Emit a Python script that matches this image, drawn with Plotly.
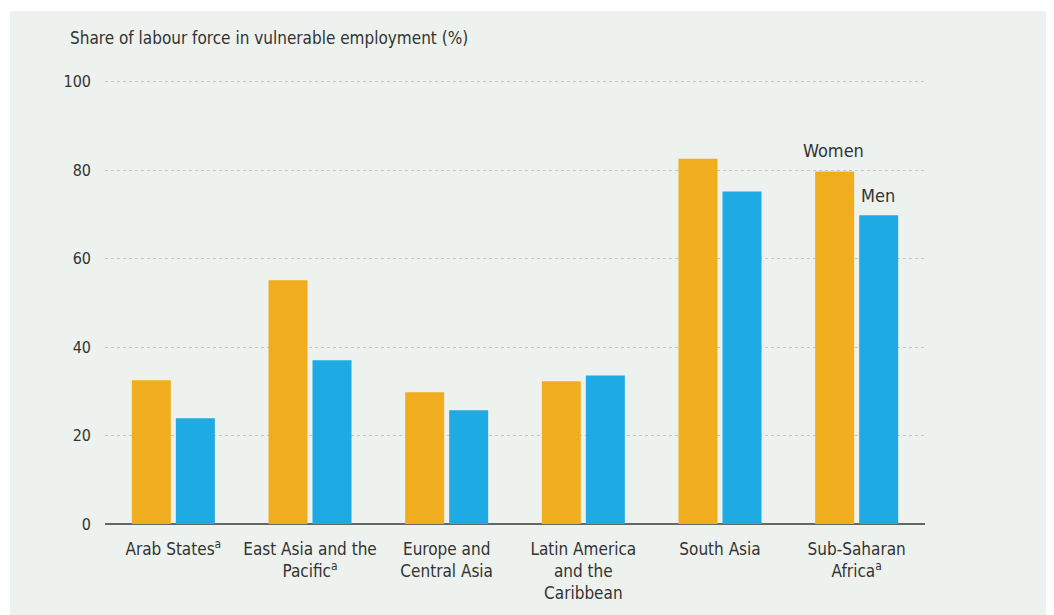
import plotly.graph_objects as go

categories = ["Arab States<sup>a</sup>", "East Asia and the<br>Pacific<sup>a</sup>",
              "Europe and<br>Central Asia", "Latin America<br>and the<br>Caribbean",
              "South Asia", "Sub-Saharan<br>Africa<sup>a</sup>"]
women = [32.5, 55.1, 29.8, 32.3, 82.6, 79.7]
men = [23.9, 37.0, 25.7, 33.6, 75.2, 69.8]
y_ticks = [0, 20, 40, 60, 80, 100]

FONT = "Liberation Sans Narrow, DejaVu Sans Condensed, sans-serif"
TXT = "#333333"
BG = "#edf2ee"

# page body has an 8px margin; figure sized/placed to compensate
L, T, PW, PH = 97, 72, 820, 444
W, H = 1046, 607

fig = go.Figure()
fig.add_trace(go.Bar(x=categories, y=women, name="Women", marker_color="#f0ae1e",
                     marker_line_width=0))
fig.add_trace(go.Bar(x=categories, y=men, name="Men", marker_color="#1eaae2",
                     marker_line_width=0))

fig.update_layout(
    width=W, height=H,
    margin=dict(l=L, r=W - L - PW, t=T, b=H - T - PH),
    paper_bgcolor=BG, plot_bgcolor=BG,
    barmode="group", bargap=0.356, bargroupgap=0.114,
    showlegend=False,
    font=dict(family=FONT, color=TXT, size=17),
    xaxis=dict(showgrid=False, ticks="", tickfont=dict(size=17, color=TXT),
               showline=False, ticklabelstandoff=13),
    yaxis=dict(range=[0, 100.4], tickvals=y_ticks, showgrid=True,
               gridcolor="#c2c6c3", griddash="dot", gridwidth=1,
               zeroline=True, zerolinecolor="#666666", zerolinewidth=2,
               tickfont=dict(size=16, color=TXT), ticks="", ticklabelstandoff=13),
    shapes=[
        dict(type="rect", xref="paper", yref="paper", x0=-0.3, x1=1.3,
             y0=(T + PH - 3) / PH, y1=1.3, fillcolor="white", line_width=0, layer="below"),
        dict(type="rect", xref="paper", yref="paper", x0=-0.3, x1=(2 - L) / PW,
             y0=-0.3, y1=1.3, fillcolor="white", line_width=0, layer="below"),
    ],
    annotations=[
        dict(text="Share of labour force in vulnerable employment (%)", xref="paper", yref="paper",
             x=(60 - L) / PW, y=(T + PH - 30) / PH, xanchor="left", yanchor="middle",
             showarrow=False, font=dict(size=17, color=TXT)),
        dict(text="Women", x=categories[5], y=women[5], xref="x", yref="y", xshift=-23,
             yanchor="bottom", yshift=9, showarrow=False, font=dict(size=18, color=TXT)),
        dict(text="Men", x=categories[5], y=men[5], xref="x", yref="y", xshift=21,
             yanchor="bottom", yshift=7, showarrow=False, font=dict(size=18, color=TXT)),
    ],
)

fig.write_html("out.html")
